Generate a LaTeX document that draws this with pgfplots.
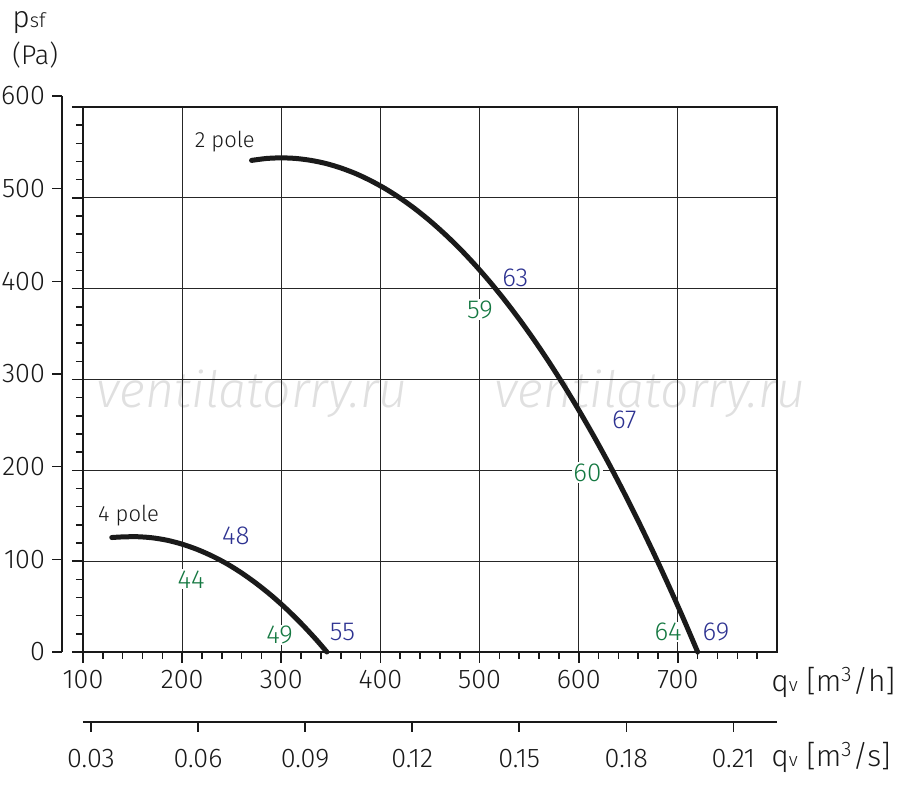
\documentclass[border=0pt]{standalone}
\usepackage{fontspec}
\setmainfont{Fira Sans Light}
\usepackage{pgfplots}
\usepackage{pgfplotstable}
\pgfplotsset{compat=1.18}
\definecolor{cblue}{RGB}{45,50,145}
\definecolor{cgreen}{RGB}{20,120,65}
\definecolor{ccurve}{RGB}{26,26,26}
\tikzset{lab/.style={font=\fontsize{13}{15}\selectfont, fill=white, inner sep=0.6pt}}

\pgfplotstableread{
q p
129 126.0
140 126.7
155 126.9
170 125.7
185 123.0
200 118.7
215 113.0
230 105.8
245 97.2
260 87.0
275 75.3
290 62.2
305 47.6
320 31.5
335 13.9
346 0
}\fourpole

\pgfplotstableread{
q p
270 541.2
285 543.3
300 544.0
315 543.3
330 541.2
345 537.8
360 532.9
375 526.7
390 519.0
405 510.0
420 499.6
435 487.8
450 474.6
465 460.0
480 444.1
495 426.7
510 408.0
525 387.9
540 366.4
555 343.5
570 319.2
585 293.5
600 266.4
615 238.0
630 208.2
645 176.9
660 144.3
675 110.3
690 74.9
705 38.2
720 0
}\twopole

\begin{document}
\begin{tikzpicture}
\useasboundingbox (0,0) rectangle (450pt,393pt);
% watermark
\node[anchor=base, text=black!12, font=\fontsize{25}{27}\selectfont\itshape] at (126pt,189pt) {ventilatorry.ru};
\node[anchor=base, text=black!12, font=\fontsize{25}{27}\selectfont\itshape] at (325pt,189pt) {ventilatorry.ru};

% main axis
\begin{axis}[
  at={(41.5pt,67pt)}, anchor=south west, scale only axis,
  width=347pt, height=272.5pt,
  xmin=100, xmax=800, ymin=0, ymax=600,
  xtick={100,200,...,700}, ytick={0,100,...,600}, yticklabels={},
  minor xtick={120,140,...,780}, minor ytick={20,40,...,580},
  tick pos=left, tick align=outside,
  major tick length=5.5pt, minor tick length=3.5pt,
  grid=major, major grid style={line width=0.6pt, black!85},
  axis line style={line width=1pt, black!90},
  tick style={line width=0.8pt, black!90},
  /pgf/number format/assume math mode=true,
  tick label style={font=\fontsize{13.5}{15}\selectfont, text=black!90},
  clip=false,
]
\node[lab, text=black!90, font=\fontsize{11}{13}\selectfont] at (axis cs:243,562) {2 pole};
\node[lab, text=black!90, font=\fontsize{11}{13}\selectfont] at (axis cs:146,150) {4 pole};
\node[lab, text=cblue] at (axis cs:536,412) {63};
\node[lab, text=cgreen] at (axis cs:500.3,377) {59};
\node[lab, text=cblue] at (axis cs:646,256) {67};
\node[lab, text=cgreen] at (axis cs:608.8,197.5) {60};
\node[lab, text=cgreen] at (axis cs:690.2,22.4) {64};
\node[lab, text=cblue] at (axis cs:738.4,22.4) {69};
\node[lab, text=cblue] at (axis cs:254.2,127.4) {48};
\node[lab, text=cgreen] at (axis cs:209,80) {44};
\node[lab, text=cgreen] at (axis cs:298.3,18.7) {49};
\node[lab, text=cblue] at (axis cs:361.6,22) {55};
\addplot[ccurve, line width=2.5pt, line cap=round, smooth, tension=0.5] table[x=q,y=p] {\fourpole};
\addplot[ccurve, line width=2.5pt, line cap=round, smooth, tension=0.5] table[x=q,y=p] {\twopole};
\end{axis}

% left pressure scale
\begin{axis}[
  at={(31pt,67pt)}, anchor=south west, scale only axis,
  width=1pt, height=278pt,
  xmin=0, xmax=1, ymin=0, ymax=600,
  axis y line*=left, hide x axis,
  ytick={0,100,...,600},
  tick align=outside, major tick length=5pt,
  axis line style={line width=1pt, black!90, -},
  tick style={line width=0.8pt, black!90},
  /pgf/number format/assume math mode=true,
  tick label style={font=\fontsize{13.5}{15}\selectfont, text=black!90},
]
\end{axis}

% m3/s scale
\begin{axis}[
  at={(41.5pt,32pt)}, anchor=south west, scale only axis,
  width=347pt, height=1pt,
  xmin=0.0277778, xmax=0.2222222, ymin=0, ymax=1,
  axis x line*=bottom, hide y axis,
  xtick={0.03,0.06,0.09,0.12,0.15,0.18,0.21},
  xticklabel style={/pgf/number format/.cd, fixed, fixed zerofill, precision=2},
  tick align=outside, major tick length=5pt,
  axis line style={line width=1pt, black!90, -},
  tick style={line width=0.8pt, black!90},
  /pgf/number format/assume math mode=true,
  tick label style={font=\fontsize{13.5}{15}\selectfont, text=black!90, yshift=-5pt},
]
\end{axis}

% axis titles
\node[anchor=base west, inner sep=0, text=black!90, font=\fontsize{15}{17}\selectfont] at (6pt,379pt) {p{\fontsize{10}{12}\selectfont sf}};
\node[anchor=base west, inner sep=0, text=black!90, font=\fontsize{13.5}{15}\selectfont] at (6pt,360.5pt) {(Pa)};
\node[anchor=base west, inner sep=0, text=black!90, font=\fontsize{15}{17}\selectfont] at (385.5pt,47pt) {q{\fontsize{9.5}{10}\selectfont v} [m\textsuperscript{3}/h]};
\node[anchor=base west, inner sep=0, text=black!90, font=\fontsize{15}{17}\selectfont] at (385.5pt,9.5pt) {q{\fontsize{9.5}{10}\selectfont v} [m\textsuperscript{3}/s]};
\end{tikzpicture}
\end{document}
